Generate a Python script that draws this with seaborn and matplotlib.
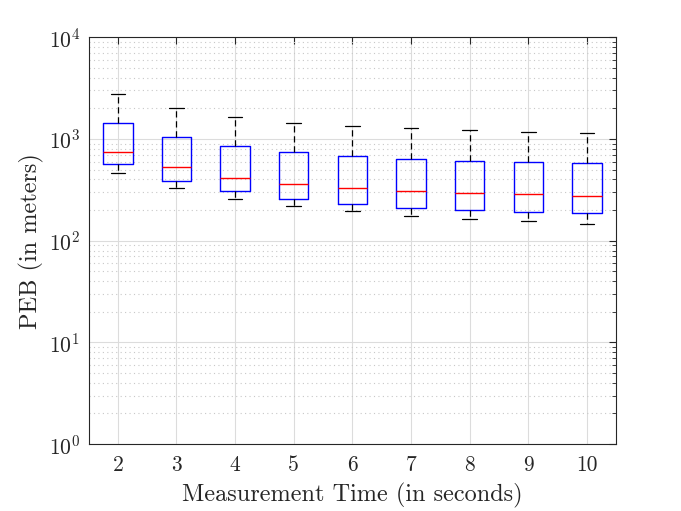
import numpy as np
import pandas as pd
import matplotlib
matplotlib.use('Agg')
import matplotlib.pyplot as plt
import seaborn as sns

# values (meters), one list per box statistic
times = [2, 3, 4, 5, 6, 7, 8, 9, 10]
whisker_low = [463, 327, 259, 217, 194, 176, 165, 155, 147]
q1 = [571, 389, 305, 257, 230, 210, 199, 191, 187]
median = [745, 526, 416, 363, 331, 308, 296, 288, 277]
q3 = [1436, 1047, 853, 745, 685, 636, 608, 594, 581]
whisker_high = [2745, 2017, 1656, 1446, 1336, 1271, 1225, 1172, 1146]

# five points per group -> quartiles land exactly on q1/q3, whiskers on min/max
rows = []
for i, t in enumerate(times):
    for v in (whisker_low[i], q1[i], median[i], q3[i], whisker_high[i]):
        rows.append({'time': str(t), 'peb': v})
df = pd.DataFrame(rows)

sns.set_style('white')
plt.rcParams['font.family'] = 'serif'
plt.rcParams['font.serif'] = ['cmr10', 'DejaVu Serif']
plt.rcParams['mathtext.fontset'] = 'cm'
plt.rcParams['axes.formatter.use_mathtext'] = True

fig = plt.figure(figsize=(6.81, 5.11), dpi=100)
ax = fig.add_axes([0.13, 0.131, 0.775, 0.796])

sns.boxplot(
    data=df, x='time', y='peb',
    order=[str(t) for t in times],
    whis=np.inf, width=0.5, fill=False, log_scale=True,
    boxprops=dict(color='#0000ff', linewidth=1.0),
    whiskerprops=dict(color='black', linestyle=(0, (5, 3)), linewidth=0.9),
    capprops=dict(color='black', linewidth=0.9),
    medianprops=dict(color='#ff0000', linewidth=1.0),
    showfliers=False,
    ax=ax,
)

ax.set_ylim(1, 1e4)
ax.set_xlim(-0.5, 8.5)
ax.set_yticks([1, 10, 100, 1000, 10000])

ax.grid(True, which='major', color='#dcdcdc', linewidth=0.8)
ax.grid(True, which='minor', axis='y', color='#c8c8c8', linestyle=(0, (1, 3)), linewidth=0.8)
ax.set_axisbelow(True)

for s in ax.spines.values():
    s.set_visible(True)
    s.set_color('#262626')
    s.set_linewidth(0.8)

ax.tick_params(which='both', direction='in', top=True, right=True,
               colors='#262626', labelsize=15.5)
ax.tick_params(which='major', length=5)
ax.tick_params(which='minor', length=3)
ax.tick_params(axis='x', which='minor', bottom=False, top=False)
ax.tick_params(axis='x', which='major', pad=8)
ax.tick_params(axis='y', which='major', pad=6)

ax.set_xlabel('Measurement Time (in seconds)', fontsize=17.5, color='#262626', labelpad=6)
ax.set_ylabel('PEB (in meters)', fontsize=17.5, color='#262626', labelpad=3.5)

plt.savefig('out.png', dpi=100)
plt.close()
